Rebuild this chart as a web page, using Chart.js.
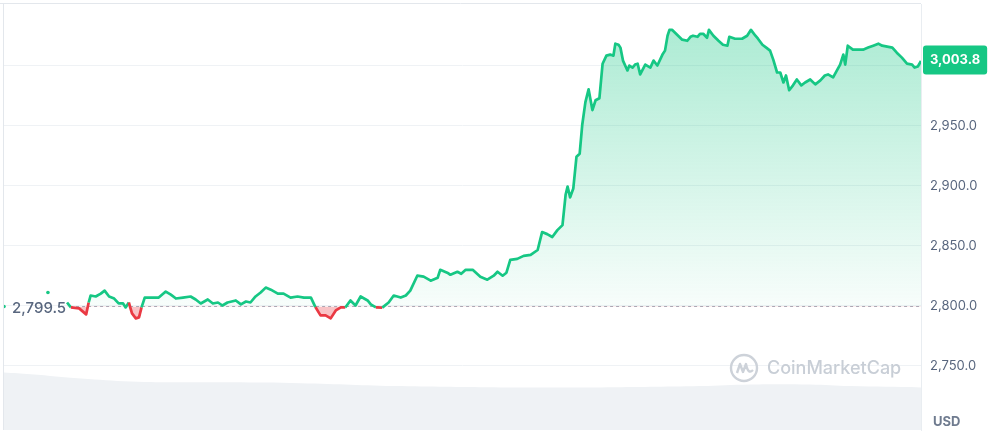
<!DOCTYPE html>
<html>
<head>
<meta charset="utf-8">
<script src="https://cdn.jsdelivr.net/npm/chart.js@4.4.0/dist/chart.umd.min.js"></script>
<style>
  html, body { margin: 0; padding: 0; background: #fff; }
</style>
</head>
<body>
<canvas id="chart" width="990" height="435"></canvas>
<script>
// minutes since start of the 24h window
var times = [0, 34, 69, 84, 99, 105, 118, 129, 133, 136, 144, 152, 158, 165, 173, 180, 187, 191, 196, 201, 207, 212, 216, 221, 231, 243, 254, 262, 270, 281, 293, 301, 309, 320, 328, 336, 343, 351, 364, 372, 380, 387, 395, 403, 411, 419, 430, 439, 450, 461, 471, 482, 489, 497, 505, 513, 521, 529, 536, 544, 552, 560, 571, 576, 584, 594, 604, 612, 623, 631, 638, 649, 659, 670, 681, 685, 696, 701, 712, 718, 725, 736, 748, 759, 769, 775, 783, 789, 795, 806, 816, 827, 838, 845, 853, 861, 869, 877, 882, 885, 889, 894, 899, 904, 908, 913, 918, 924, 929, 935, 940, 946, 952, 957, 960, 965, 968, 972, 979, 982, 987, 991, 995, 999, 1007, 1015, 1020, 1026, 1034, 1038, 1042, 1045, 1049, 1057, 1065, 1073, 1078, 1082, 1089, 1093, 1098, 1104, 1107, 1114, 1122, 1129, 1136, 1139, 1148, 1159, 1167, 1173, 1180, 1184, 1191, 1197, 1203, 1208, 1214, 1219, 1224, 1228, 1233, 1239, 1245, 1252, 1258, 1266, 1274, 1282, 1289, 1294, 1302, 1308, 1313, 1318, 1321, 1325, 1333, 1341, 1349, 1357, 1365, 1373, 1379, 1387, 1395, 1402, 1410, 1418, 1426, 1430, 1435, 1440];

var prices = [2799.5, null, 2811.1, null,
  2802.8, 2798.7, 2797.9, 2792.9, 2802.8, 2808.6, 2807.8, 2810.2, 2812.7, 2807.8,
  2806.1, 2802.0, 2802.0, 2798.7, 2802.8, 2793.7, 2789.6, 2790.4, 2798.7, 2806.9,
  2806.9, 2806.9, 2811.9, 2809.4, 2806.1, 2806.9, 2807.8, 2805.3, 2802.0, 2805.3,
  2802.0, 2802.8, 2800.3, 2802.8, 2804.5, 2801.2, 2803.6, 2802.8, 2807.8, 2811.1,
  2815.2, 2813.5, 2810.2, 2810.2, 2806.9, 2807.8, 2806.9, 2806.9, 2799.0, 2792.1,
  2792.1, 2789.6, 2796.2, 2798.8, 2798.7, 2804.5, 2800.3, 2807.8, 2804.5, 2801.2,
  2798.7, 2798.5, 2802.8, 2808.6, 2806.9, 2808.6, 2812.7, 2825.1, 2824.3, 2821.0,
  2823.4, 2830.0, 2827.6, 2825.9, 2828.4, 2826.7, 2830.0, 2830.0, 2824.3, 2821.8,
  2825.1, 2828.4, 2825.1, 2827.6, 2838.3, 2839.1, 2841.6, 2842.4, 2846.5, 2861.4,
  2859.7, 2857.3, 2863.0, 2867.2, 2892.7, 2899.3, 2890.3, 2897.7, 2924.1, 2926.6,
  2950.5, 2969.5, 2980.2, 2962.9, 2971.1, 2972.8, 3001.5, 3008.2, 3009.1, 3008.2,
  3018.2, 3017.3, 3014.9, 3004.1, 2995.9, 3000.0, 2998.3, 3000.8, 3001.5, 2992.6,
  3000.8, 2998.3, 3004.1, 3000.0, 3009.1, 3012.4, 3024.8, 3029.7, 3029.7, 3025.6,
  3021.5, 3020.6, 3023.9, 3024.8, 3023.9, 3026.4, 3026.4, 3023.1, 3029.7, 3024.8,
  3020.6, 3017.3, 3016.5, 3023.9, 3022.3, 3022.3, 3024.8, 3029.7, 3024.8, 3022.3,
  3017.3, 3014.9, 3012.4, 3004.9, 2994.2, 2994.2, 2985.9, 2991.7, 2979.4, 2983.5,
  2988.4, 2983.5, 2985.9, 2988.4, 2984.3, 2987.6, 2991.7, 2992.6, 2990.1, 2995.9,
  3000.8, 3009.1, 3000.8, 3016.5, 3013.2, 3013.2, 3013.2, 3014.9, 3016.5, 3018.2,
  3016.5, 3015.7, 3014.9, 3010.7, 3006.6, 3001.6, 3000.8, 2998.3, 2999.2, 3003.8];

// 24h volume (billion USD) for the grey band at the bottom
var volTimes = [0, 42, 121, 199, 278, 356, 466, 623, 780, 937, 1093, 1172, 1266, 1329, 1440];
var volumes = [13.5, 13.1, 12.1, 11.4, 11.2, 11.2, 11.0, 10.3, 10.0, 10.0, 10.3, 10.7, 10.7, 10.3, 10.0];

var tickValues = [2750, 2800, 2850, 2900, 2950, 3000];
var basePrice = 2799.5;
var lastPrice = 3003.8;
var yMin = 2696.7;
var yMax = 3051.2;

var up = '#16c784';
var down = '#ea3943';

function fmt(v) {
  return v.toLocaleString('en-US', { minimumFractionDigits: 1, maximumFractionDigits: 1 });
}

Chart.defaults.font.family = "Inter, 'Noto Sans', sans-serif";

var decor = {
  id: 'decor',
  beforeDatasetsDraw: function(chart) {
    var ctx = chart.ctx, a = chart.chartArea, y = chart.scales.y;
    ctx.save();
    // frame
    ctx.strokeStyle = '#e3e7ec';
    ctx.lineWidth = 1;
    ctx.beginPath();
    ctx.moveTo(0, a.top - 0.5); ctx.lineTo(a.right, a.top - 0.5);
    ctx.moveTo(a.left - 0.5, a.top); ctx.lineTo(a.left - 0.5, a.bottom);
    ctx.stroke();

    // watermark
    var cx = a.right - 177, cy = a.bottom - 62;
    ctx.strokeStyle = '#cdd2d9';
    ctx.lineWidth = 2.4;
    ctx.beginPath();
    ctx.arc(cx, cy, 13, 0, Math.PI * 2);
    ctx.stroke();
    ctx.beginPath();
    ctx.lineJoin = 'round';
    ctx.moveTo(cx - 7, cy + 5);
    ctx.lineTo(cx - 4, cy - 4);
    ctx.lineTo(cx - 1, cy + 4);
    ctx.lineTo(cx + 2, cy - 4);
    ctx.quadraticCurveTo(cx + 4, cy + 7, cx + 9, cy + 2);
    ctx.stroke();
    ctx.fillStyle = '#c8ced6';
    ctx.font = "500 18px Inter, 'Noto Sans', sans-serif";
    ctx.textBaseline = 'middle';
    ctx.textAlign = 'left';
    ctx.fillText('CoinMarketCap', cx + 23, cy + 1);

    // baseline (open price)
    var by = y.getPixelForValue(basePrice);
    ctx.font = "500 15px Inter, 'Noto Sans', sans-serif";
    ctx.fillStyle = '#58667e';
    var label = fmt(basePrice);
    ctx.fillText(label, a.left + 8, by + 2);
    var x0 = a.left + 8 + ctx.measureText(label).width + 4;
    ctx.strokeStyle = '#a9b1be';
    ctx.lineWidth = 1;
    ctx.setLineDash([3, 3]);
    ctx.beginPath();
    ctx.moveTo(x0, Math.round(by) + 0.5);
    ctx.lineTo(a.right, Math.round(by) + 0.5);
    ctx.stroke();
    ctx.restore();
  },
  afterDatasetsDraw: function(chart) {
    var ctx = chart.ctx, a = chart.chartArea, y = chart.scales.y;
    ctx.save();
    // last price badge
    var py = y.getPixelForValue(lastPrice);
    ctx.font = "bold 13px Inter, 'Noto Sans', sans-serif";
    var txt = fmt(lastPrice);
    var w = ctx.measureText(txt).width + 14;
    var bx = a.right + 2, bh = 29, byTop = py - 1 - bh / 2;
    ctx.fillStyle = up;
    ctx.beginPath();
    if (ctx.roundRect) ctx.roundRect(bx, byTop, w, bh, 3); else ctx.rect(bx, byTop, w, bh);
    ctx.fill();
    ctx.fillStyle = '#fff';
    ctx.textAlign = 'center';
    ctx.textBaseline = 'middle';
    ctx.fillText(txt, bx + w / 2, byTop + bh / 2 + 0.5);

    // currency label
    ctx.fillStyle = '#6f7b8f';
    ctx.textAlign = 'left';
    ctx.fillText('USD', a.right + 12, a.bottom - 8);
    ctx.restore();
  }
};

var priceData = times.map(function(t, i) { return { x: t, y: prices[i] }; });
var volData = volTimes.map(function(t, i) { return { x: t, y: volumes[i] }; });

function isolated(c) {
  var i = c.dataIndex;
  if (prices[i] == null) return false;
  var prev = i > 0 ? prices[i - 1] : null;
  var next = i < prices.length - 1 ? prices[i + 1] : null;
  return prev == null && next == null;
}

new Chart(document.getElementById('chart'), {
  type: 'line',
  data: {
    datasets: [{
      label: 'Price',
      data: priceData,
      yAxisID: 'y',
      borderWidth: 2.7,
      borderColor: up,
      borderJoinStyle: 'round',
      segment: {
        borderColor: function(c) {
          return (c.p0.parsed.y + c.p1.parsed.y) / 2 < basePrice ? down : up;
        }
      },
      backgroundColor: function(c) {
        var ch = c.chart, a = ch.chartArea;
        if (!a) return 'rgba(22,199,132,0.2)';
        var by = ch.scales.y.getPixelForValue(basePrice);
        var g = ch.ctx.createLinearGradient(0, a.top, 0, by);
        g.addColorStop(0, 'rgba(22,199,132,0.38)');
        g.addColorStop(1, 'rgba(22,199,132,0.03)');
        return g;
      },
      fill: { target: { value: basePrice }, below: 'rgba(234,57,67,0.3)' },
      pointRadius: function(c) { return isolated(c) ? 1.8 : 0; },
      pointBorderWidth: 0,
      pointBackgroundColor: function(c) {
        return c.parsed && c.parsed.y < basePrice ? down : up;
      },
      spanGaps: false,
      tension: 0
    }, {
      label: 'Volume',
      data: volData,
      yAxisID: 'yv',
      borderWidth: 0,
      pointRadius: 0,
      backgroundColor: '#eff2f5',
      fill: 'start',
      tension: 0.4
    }]
  },
  options: {
    responsive: false,
    animation: false,
    events: [],
    layout: { padding: { left: 3, top: 1, right: 0, bottom: 5 } },
    plugins: { legend: { display: false }, tooltip: { enabled: false } },
    scales: {
      x: { type: 'linear', display: false, min: 0, max: 1440 },
      y: {
        position: 'right',
        min: yMin,
        max: yMax,
        afterBuildTicks: function(s) {
          s.ticks = tickValues.map(function(v) { return { value: v }; });
        },
        afterFit: function(s) {
          s.width = 69;
          s.paddingTop = 0;
          s.paddingBottom = 0;
        },
        grid: { color: '#eff2f5', drawTicks: false },
        border: { display: true, color: '#e9edf1' },
        ticks: {
          padding: 9,
          color: '#58667e',
          font: { size: 13 },
          callback: function(v) { return fmt(v); }
        }
      },
      yv: { display: false, min: 0, max: 100 }
    }
  },
  plugins: [decor]
});
</script>
</body>
</html>
